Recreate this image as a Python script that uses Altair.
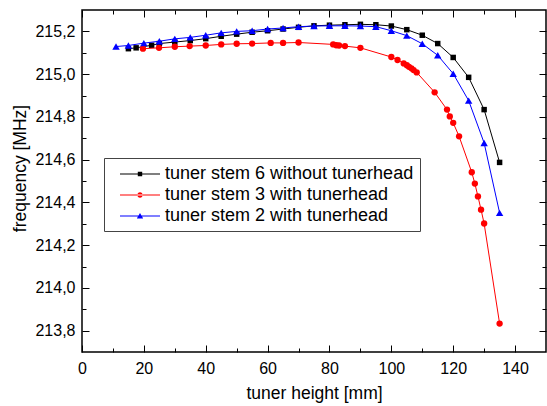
import altair as alt
import pandas as pd

FONT = "Liberation Sans"

series_names = ["tuner stem 6 without tunerhead", "tuner stem 3 with tunerhead", "tuner stem 2 with tunerhead"]
series_colors = ["#000000", "#ff0000", "#0000ff"]
series_shapes = ["square", "circle", "triangle-up"]
series_sizes = [30, 40, 55]

black_x = [15, 17.5, 22.5, 25, 30, 35, 40, 45, 50, 55, 60, 65, 70, 75, 80, 85, 90, 95, 100, 105, 110, 115, 120, 125, 130, 135]
black_y = [215.119, 215.123, 215.135, 215.143, 215.150, 215.157, 215.166, 215.177, 215.187, 215.196, 215.203,
           215.211, 215.219, 215.226, 215.229, 215.231, 215.233, 215.231, 215.225, 215.208, 215.182, 215.143,
           215.078, 214.985, 214.834, 214.587]

red_x = [19.7, 24.9, 30, 34.8, 40, 45, 50, 55, 61, 65, 70, 81.2, 82.2, 83.1, 85, 90, 100, 102, 104, 105, 105.7,
         106.5, 107.2, 108.2, 114, 118, 118.9, 120, 121.9, 126, 127, 128, 129, 130, 135]
red_y = [215.119, 215.123, 215.128, 215.131, 215.134, 215.139, 215.142, 215.143, 215.146, 215.146, 215.148,
         215.139, 215.135, 215.134, 215.131, 215.123, 215.080, 215.066, 215.050, 215.042, 215.034, 215.027,
         215.019, 215.008, 214.915, 214.834, 214.802, 214.772, 214.709, 214.541, 214.488, 214.428, 214.366,
         214.301, 213.833]

blue_x = [11, 15, 20, 25, 30, 35, 40, 45, 50, 55, 60, 65, 70, 75, 80, 85, 90, 95, 100, 105, 110, 115, 120, 125, 130, 135]
blue_y = [215.129, 215.134, 215.145, 215.154, 215.165, 215.172, 215.182, 215.193, 215.200, 215.203, 215.211,
          215.216, 215.222, 215.225, 215.226, 215.226, 215.225, 215.222, 215.203, 215.180, 215.142, 215.088,
          215.002, 214.876, 214.678, 214.351]

x_major = [0, 20, 40, 60, 80, 100, 120, 140]
x_minor = [10, 30, 50, 70, 90, 110, 130]
y_major = [213.8, 214.0, 214.2, 214.4, 214.6, 214.8, 215.0, 215.2]
y_minor = [213.9, 214.1, 214.3, 214.5, 214.7, 214.9, 215.1]
x_domain = [0, 150]
y_domain = [213.7, 215.3]

rows = []
for name, xs, ys in zip(series_names, [black_x, red_x, blue_x], [black_y, red_y, blue_y]):
    for xv, yv in zip(xs, ys):
        rows.append({"series": name, "x": xv, "y": yv})
df = pd.DataFrame(rows)

xs = alt.Scale(domain=x_domain, nice=False, zero=False)
ys = alt.Scale(domain=y_domain, nice=False, zero=False)

base = alt.Chart(df)
layers = []
for name, col, shp, sz in zip(series_names, series_colors, series_shapes, series_sizes):
    sub = base.transform_filter(alt.datum.series == name)
    layers.append(sub.mark_line(color=col, strokeWidth=1).encode(
        x=alt.X("x:Q", scale=xs, axis=None), y=alt.Y("y:Q", scale=ys, axis=None)))
    layers.append(sub.mark_point(shape=shp, filled=True, color=col, size=sz, opacity=1).encode(
        x=alt.X("x:Q", scale=xs, axis=None), y=alt.Y("y:Q", scale=ys, axis=None)))

# legend symbols: a line with the marker in its middle
line_part = "M-2,-0.05L2,-0.05L2,0.05L-2,0.05Z "
legend_paths = [
    line_part + "M-0.22,-0.22L0.22,-0.22L0.22,0.22L-0.22,0.22Z",
    line_part + "M-0.27,0A0.27,0.27,0,1,0,0.27,0A0.27,0.27,0,1,0,-0.27,0Z",
    line_part + "M0,-0.3L0.32,0.24L-0.32,0.24Z",
]
leg = alt.Legend(title=None, orient="none", legendX=22, legendY=148, strokeColor="#444444",
                 padding=6, symbolSize=400, symbolStrokeWidth=0, symbolOffset=20, labelOffset=15,
                 labelFont=FONT, labelFontSize=18, labelColor="black", rowPadding=2, labelLimit=400)
empty = base.transform_filter("false")
layers.append(empty.mark_point(filled=True, opacity=1).encode(
    x=alt.X("x:Q", scale=xs, axis=None), y=alt.Y("y:Q", scale=ys, axis=None),
    color=alt.Color("series:N", scale=alt.Scale(domain=series_names, range=series_colors), legend=leg),
    shape=alt.Shape("series:N", scale=alt.Scale(domain=series_names, range=legend_paths), legend=leg),
))

def axis_layer(xorient, yorient, xvals, yvals, tick, labels):
    common = dict(domain=False, grid=False, tickSize=tick, offset=-tick, tickColor="black", tickWidth=1)
    if labels:
        xax = alt.Axis(orient=xorient, values=xvals, labelFont=FONT, labelFontSize=16, labelColor="black",
                       labelPadding=8, labelFlush=False, title="tuner height [mm]", titleFont=FONT,
                       titleFontSize=17.5, titleFontWeight="normal", titleColor="black", titlePadding=8,
                       format="d", **common)
        yax = alt.Axis(orient=yorient, values=yvals, labelFont=FONT, labelFontSize=16, labelColor="black",
                       labelPadding=7, labelFlush=False,
                       labelExpr="replace(format(datum.value, '.1f'), '.', ',')",
                       title="frequency [MHz]", titleFont=FONT, titleFontSize=17.5, titleY=158,
                       titleFontWeight="normal", titleColor="black", titlePadding=5, **common)
    else:
        xax = alt.Axis(orient=xorient, values=xvals, labels=False, title=None, **common)
        yax = alt.Axis(orient=yorient, values=yvals, labels=False, title=None, **common)
    return empty.mark_point(opacity=0).encode(
        x=alt.X("x:Q", scale=xs, axis=xax), y=alt.Y("y:Q", scale=ys, axis=yax))

layers.append(axis_layer("bottom", "left", x_major, y_major, 7, True))
layers.append(axis_layer("bottom", "left", x_minor, y_minor, 4, False))
layers.append(axis_layer("top", "right", x_major, y_major, 7, False))
layers.append(axis_layer("top", "right", x_minor, y_minor, 4, False))

chart = alt.layer(*layers).resolve_axis(x="independent", y="independent").properties(
    width=464, height=342,
    autosize=alt.AutoSizeParams(type="none"),
    padding={"left": 82, "top": 10, "right": 1, "bottom": 54},
    background="white",
).configure_view(stroke="black", strokeWidth=1.5)

chart.save("out.html", embed_options={"renderer": "svg", "actions": False})
